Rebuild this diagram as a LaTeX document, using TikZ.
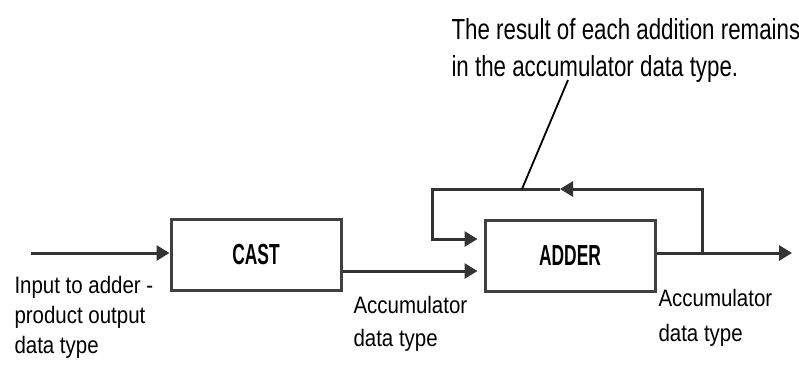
\documentclass[tikz,border=0pt]{standalone}
\usepackage{fontspec}
\setmainfont{Liberation Sans}
\newfontfamily\notefont[FakeStretch=0.77]{Liberation Sans}
\newfontfamily\labelfont[FakeStretch=0.86]{Liberation Sans}
\newfontfamily\blockfont[FakeStretch=0.6]{Liberation Sans}
\usepackage{tikz}
\usetikzlibrary{arrows.meta}
\usetikzlibrary{positioning}

\begin{document}
\begin{tikzpicture}[
  x=0.5pt, y=-0.5pt,
  line width=1.5pt, draw=black!80,
  >={Triangle[length=6.5pt, width=7.5pt]},
  block/.style={draw=black!75, line width=1.5pt, minimum width=85pt, minimum height=35.5pt,
    inner sep=0pt, font=\blockfont\bfseries\fontsize{14.5}{17}\selectfont},
  note/.style={align=left, inner sep=0pt, anchor=north west,
    font=\notefont\fontsize{14.5}{18.5}\selectfont},
  lbl/.style={align=left, inner sep=0pt, anchor=north west,
    font=\labelfont\fontsize{11.9}{#1}\selectfont}
]
\useasboundingbox (0,0) rectangle (799,366);

% blocks
\node[block] (cast)  at (256,254.5) {CAST};
\node[block] (adder) at (570,255.5) {ADDER};

% free ends of the signal lines
\coordinate (in)    at (31,253);
\coordinate (out)   at (792,253);
\coordinate (tap)   at (702,253);
\coordinate (fbtip) at (560,189);
\coordinate (loop)  at (432,239);
\coordinate (hint)  at (568,80);
\coordinate (hit)   at (522,189);

% signal path
\draw[->] (in) -- (in -| cast.west);
\draw[->, shorten >=3pt] (cast.east |- 0,271) -- (adder.west |- 0,271);
\draw[->] (adder.east |- out) -- (out);

% feedback loop
\draw[->] (tap) |- (fbtip);
\draw[->, shorten >=3pt] (fbtip) -| (loop) -- (loop -| adder.west);

% annotation
\draw[line width=0.9pt, black] (hint) -- (hit);
\node[note] (remark) at (450,17) {The result of each addition remains\\in the accumulator data type.};

% data type labels
\node[lbl=15pt]   (inlabel)  at (13,275)  {Input to adder -\\product output\\data type};
\node[lbl=16.5pt] (midlabel) at (352,295) {Accumulator\\data type};
\node[lbl=17.5pt] (outlabel) at (657,288) {Accumulator\\data type};
\end{tikzpicture}
\end{document}
